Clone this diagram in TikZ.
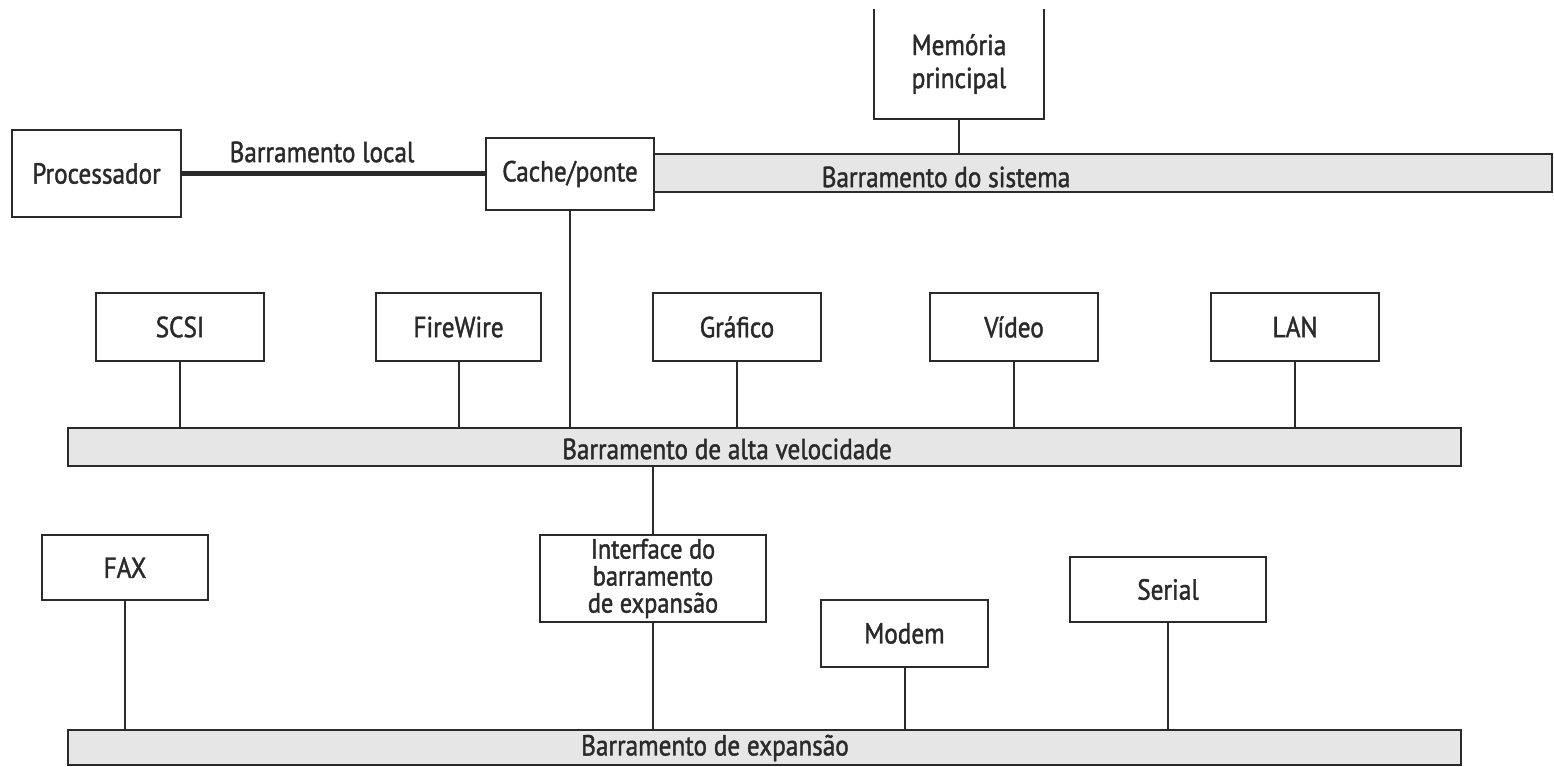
\documentclass[tikz,border=0pt]{standalone}
\usepackage{fontspec}
\setmainfont{PT Sans}[FakeStretch=0.87,FakeBold=1.4]
\definecolor{busgray}{HTML}{E6E6E6}
\definecolor{ink}{HTML}{2A2A2A}
\begin{document}
\begin{tikzpicture}[x=1pt,y=-1pt,
  box/.style={draw=ink,line width=2pt,fill=white,inner sep=0pt,align=center,font=\fontsize{29}{32}\selectfont,text=ink},
  bus/.style={draw=ink,line width=2pt,fill=busgray,inner sep=0pt},
  lbl/.style={inner sep=0pt,font=\fontsize{29}{32}\selectfont,text=ink},
  wire/.style={draw=ink,line width=2pt}]
\useasboundingbox (0,0) rectangle (1554,766);
% buses
\node[bus,minimum width=898pt,minimum height=38pt] (sys) at (1103,173) {};
\node[lbl] (syslbl) at (946,177) {Barramento do sistema};
\node[bus,minimum width=1393pt,minimum height=38pt] (alta) at (764.5,447) {};
\node[lbl] (altalbl) at (727,449) {Barramento de alta velocidade};
\node[bus,minimum width=1393pt,minimum height=35pt] (exp) at (764.5,747.5) {};
\node[lbl] (explbl) at (715,748) {Barramento de expansão};
% top
\node[box,minimum width=169pt,minimum height=87pt] (proc) at (96.5,173.5) {Processador};
\node[box,minimum width=168pt,minimum height=72pt] (cache) at (570,174) {Cache/ponte};
\node[box,draw=none,minimum width=168pt,minimum height=108pt] (mem) at (959,64) {Memória\\[1pt]principal};
\draw[wire] (mem.north west) -- (mem.south west) -- (mem.south east) -- (mem.north east);
\node[lbl] (loclbl) at (322,152) {Barramento local};
\draw[draw=ink,line width=5pt] (proc.east) -- (proc.east -| cache.west);
\draw[wire] (mem.south) -- (mem.south |- sys.north);
% middle row
\node[box,minimum width=168pt,minimum height=68pt] (scsi) at (180,327) {SCSI};
\node[box,minimum width=165pt,minimum height=68pt] (fw) at (458.5,327) {FireWire};
\node[box,minimum width=168pt,minimum height=68pt] (graf) at (737,327) {Gráfico};
\node[box,minimum width=168pt,minimum height=68pt] (video) at (1014,327) {Vídeo};
\node[box,minimum width=168pt,minimum height=68pt] (lan) at (1295,327) {LAN};
\foreach \n in {scsi,fw,graf,video,lan}
  \draw[wire] (\n.south) -- (\n.south |- alta.north);
\draw[wire] (cache.south) -- (cache.south |- alta.north);
% bottom row
\node[box,minimum width=226pt,minimum height=87pt,font=\fontsize{28}{27}\selectfont] (iface) at (653,578.5) {Interface do\\barramento\\de expansão};
\node[box,minimum width=166pt,minimum height=65pt] (fax) at (125,567.5) {FAX};
\node[box,minimum width=167pt,minimum height=67pt] (modem) at (904.5,633.5) {Modem};
\node[box,minimum width=196pt,minimum height=65pt] (serial) at (1168,589.5) {Serial};
\draw[wire] (iface.north) -- (iface.north |- alta.south);
\foreach \n in {iface,fax,modem,serial}
  \draw[wire] (\n.south) -- (\n.south |- exp.north);
\end{tikzpicture}
\end{document}
